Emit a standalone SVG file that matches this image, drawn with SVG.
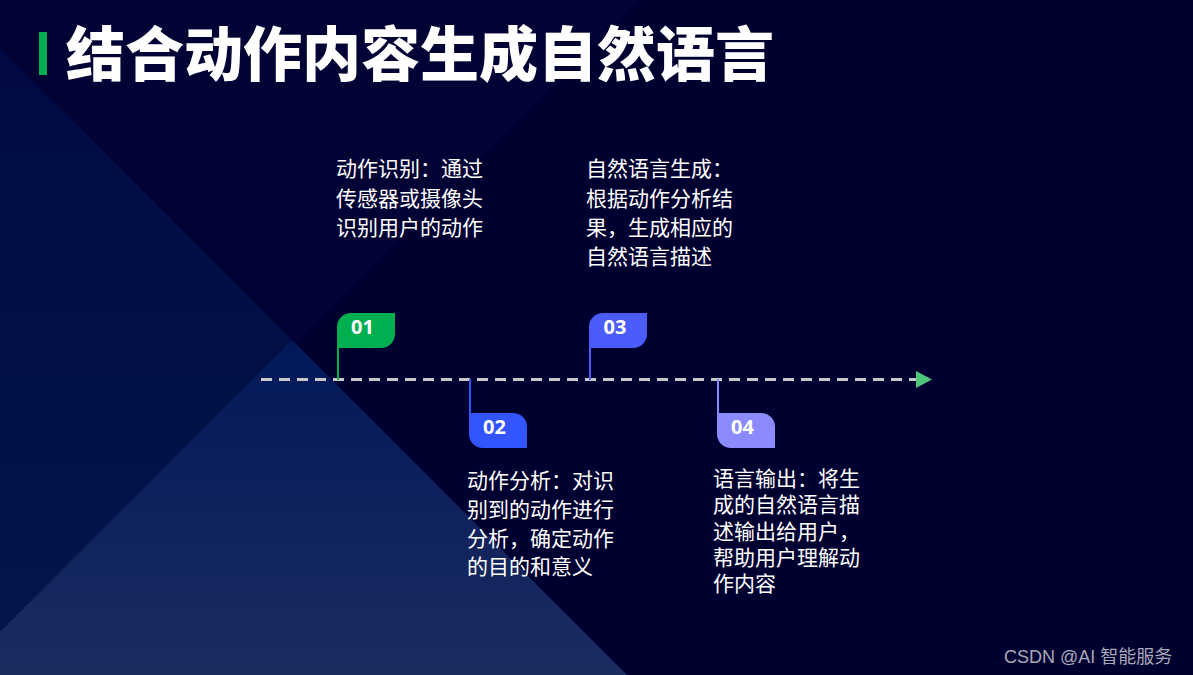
<svg xmlns="http://www.w3.org/2000/svg" width="1193" height="675" viewBox="0 0 1193 675">
<defs>
<style>
.title{font-family:"Noto Sans CJK SC","Noto Sans",sans-serif;font-weight:900;font-size:59px;fill:#ffffff}
.body{font-family:"Liberation Sans","Noto Sans CJK SC",sans-serif;font-size:21px;fill:#ffffff}
.num{font-family:"Open Sans","Noto Sans",sans-serif;font-weight:700;font-size:20px;fill:#ffffff;text-anchor:middle}
.wm{font-family:"Liberation Sans","Noto Sans CJK SC",sans-serif;font-size:18px;fill:#a9a9b8}
</style>
<linearGradient id="gA" x1="0" y1="0" x2="0" y2="1">
<stop offset="0" stop-color="#000a40"/>
<stop offset="1" stop-color="#03164c"/>
</linearGradient>
<linearGradient id="gB" x1="0" y1="0" x2="0" y2="1">
<stop offset="0" stop-color="#02185a"/>
<stop offset="1" stop-color="#1c2d60"/>
</linearGradient>
<marker id="arr" viewBox="0 0 16 17" refX="0" refY="8.5" markerWidth="16" markerHeight="17" markerUnits="userSpaceOnUse" orient="auto">
<path d="M0,0 L16,8.5 L0,17 Z" fill="#4fc77a"/>
</marker>
</defs>
<rect x="0" y="0" width="1193" height="675" fill="#000030"/>
<g id="background">
<polygon points="0,0 640,0 0,640" fill="#1a2a8a" opacity="0.06"/>
<polygon points="0,48 627,675 0,675" fill="url(#gA)"/>
<polygon points="292,340 627,675 0,675 0,632" fill="url(#gB)" opacity="0.95"/>
</g>
<g id="title">
<rect x="39" y="32" width="8" height="43" fill="#00b050"/>
<text class="title" x="66" y="76">结合动作内容生成自然语言</text>
</g>
<g id="connectors">
<line x1="261" y1="379.5" x2="916" y2="379.5" stroke="#c8c8c8" stroke-width="3" stroke-dasharray="11 7" marker-end="url(#arr)"/>
<line x1="338" y1="346" x2="338" y2="380" stroke="#00b050" stroke-width="2"/>
<line x1="470" y1="379" x2="470" y2="415" stroke="#3355ff" stroke-width="2"/>
<line x1="590" y1="346" x2="590" y2="380" stroke="#4a5cf9" stroke-width="2"/>
<line x1="718" y1="379" x2="718" y2="415" stroke="#8b8bff" stroke-width="2"/>
</g>
<g id="node01">
<path d="M337,348 V327 A14,14 0 0 1 351,313 H395 V334 A14,14 0 0 1 381,348 Z" fill="#00b050"/>
<text class="num" x="362.5" y="334">01</text>
<text class="body" x="336" y="176">动作识别：通过</text>
<text class="body" x="336" y="205.5">传感器或摄像头</text>
<text class="body" x="336" y="235">识别用户的动作</text>
</g>
<g id="node02">
<path d="M469,413 H513 A14,14 0 0 1 527,427 V448 H483 A14,14 0 0 1 469,434 Z" fill="#3355ff"/>
<text class="num" x="494.5" y="434">02</text>
<text class="body" x="467" y="488">动作分析：对识</text>
<text class="body" x="467" y="517">别到的动作进行</text>
<text class="body" x="467" y="545.5">分析，确定动作</text>
<text class="body" x="467" y="574">的目的和意义</text>
</g>
<g id="node03">
<path d="M589,348 V327 A14,14 0 0 1 603,313 H647 V334 A14,14 0 0 1 633,348 Z" fill="#4a5cf9"/>
<text class="num" x="615" y="334">03</text>
<text class="body" x="586" y="176">自然语言生成：</text>
<text class="body" x="586" y="205.5">根据动作分析结</text>
<text class="body" x="586" y="235">果，生成相应的</text>
<text class="body" x="586" y="264">自然语言描述</text>
</g>
<g id="node04">
<path d="M717,413 H761 A14,14 0 0 1 775,427 V448 H731 A14,14 0 0 1 717,434 Z" fill="#8b8bff"/>
<text class="num" x="742.5" y="434">04</text>
<text class="body" x="713" y="485.5">语言输出：将生</text>
<text class="body" x="713" y="511.5">成的自然语言描</text>
<text class="body" x="713" y="538.5">述输出给用户，</text>
<text class="body" x="713" y="565">帮助用户理解动</text>
<text class="body" x="713" y="591">作内容</text>
</g>
<text class="wm" x="1004" y="663">CSDN @AI 智能服务</text>
</svg>
